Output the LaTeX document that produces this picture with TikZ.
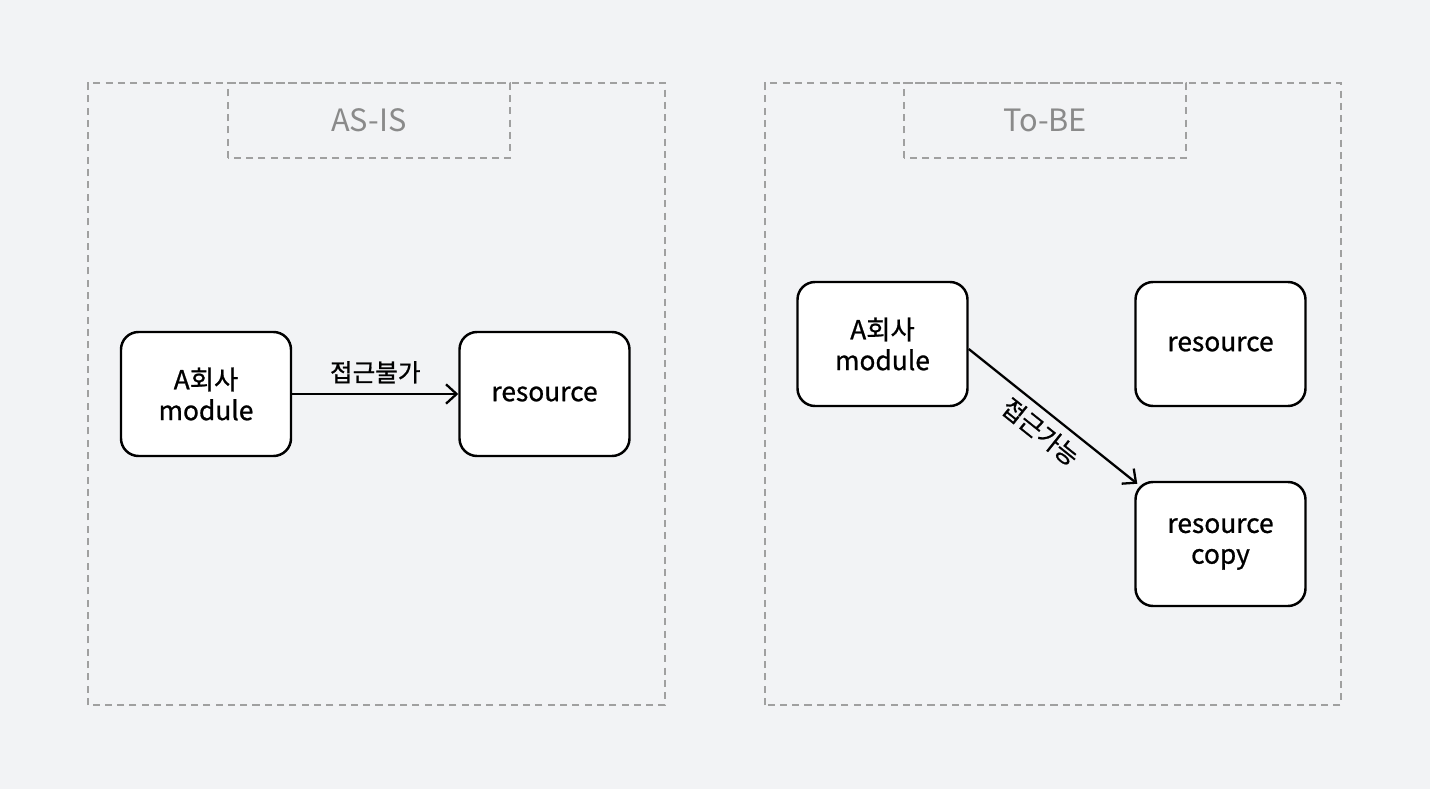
\documentclass[tikz,border=0pt]{standalone}
\usepackage{fontspec}
\setmainfont{Noto Sans CJK KR}
\newfontfamily\medfont{Noto Sans CJK KR}[FakeBold=0.8]
\usepackage{tikz}
\usetikzlibrary{arrows.meta}
\definecolor{bgcol}{HTML}{F2F3F5}
\definecolor{dashcol}{HTML}{A0A0A0}
\definecolor{titlecol}{HTML}{8A8A8A}
\begin{document}
\begin{tikzpicture}[
    frame/.style={draw=dashcol, line width=1.2pt, dash pattern=on 4pt off 3pt},
    box/.style={draw=black, fill=white, line width=1.4pt, rounded corners=10pt,
      minimum width=3.4cm, minimum height=2.48cm, align=center,
      font=\fontsize{15}{17.5}\medfont},
    title/.style={text=titlecol, font=\fontsize{17.5}{20}\selectfont},
    link/.style={-{Straight Barb[length=6pt,width=11pt]}, line width=1.3pt},
    tag/.style={font=\fontsize{14}{17}\medfont}
  ]
      \fill[bgcol] (0,0) rectangle (28.6,15.78);
      \useasboundingbox (0,0) rectangle (28.6,15.78);
      % AS-IS
      \draw[frame] (1.76,1.68) rectangle (13.3,14.12);
      \draw[frame] (4.56,12.62) rectangle (10.2,14.12);
      \node[title] (asis) at (7.38,13.38) {AS-IS};
      \node[box] (amodL) at (4.12,7.9) {A회사\\module};
      \node[box] (resL) at (10.89,7.9) {resource};
      \draw[link] (amodL) -- node[above, tag, yshift=2pt] {접근불가} (resL);
      % To-BE
      \draw[frame] (15.3,1.68) rectangle (26.82,14.12);
      \draw[frame] (18.08,12.62) rectangle (23.72,14.12);
      \node[title] (tobe) at (20.9,13.38) {To-BE};
      \node[box] (amodR) at (17.65,8.9) {A회사\\module};
      \node[box] (resR) at (24.41,8.9) {resource};
      \node[box] (copyR) at (24.41,4.9) {resource\\copy};
      \draw[link] (amodR.east) ++(0,-0.1) coordinate (start) (start) --
        node[below, sloped, tag, yshift=-1pt] {접근가능} ([xshift=0.06cm,yshift=-0.06cm]copyR.north west);
\end{tikzpicture}
\end{document}
